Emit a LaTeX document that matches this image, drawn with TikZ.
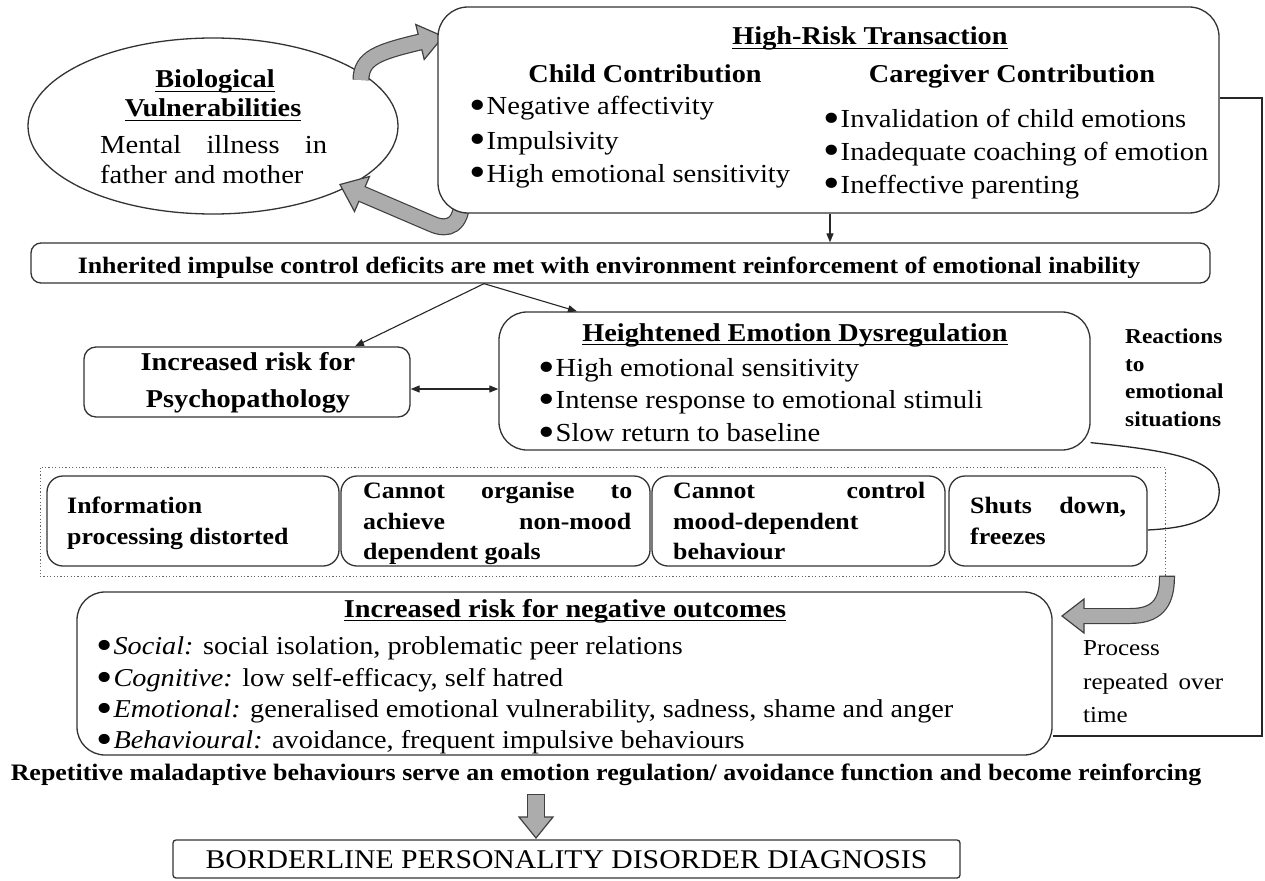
\documentclass[tikz,border=0pt]{standalone}
\usepackage{fontspec}
\usepackage{graphicx}
\setmainfont{Liberation Serif}[FakeStretch=1.1]
\usetikzlibrary{shapes.geometric,arrows.meta,calc}
\newcommand\myul[1]{\setbox0\hbox{#1}\rlap{\vrule height -2.6pt depth 4pt width \wd0}\box0}
\newcommand\bul{\raisebox{-5pt}[0pt][0pt]{\scalebox{1.65}{\textbullet}}\hspace{1pt}}
\tikzset{
  every node/.style={inner sep=0pt},
  bx/.style={draw=black!80, line width=1.3pt, rounded corners=#1, fill=white},
  bx/.default=14pt,
  fR/.style={font=\fontsize{26}{31}\selectfont},
  fO/.style={font=\fontsize{25.7}{31}\selectfont},
  fB/.style={font=\fontsize{25.7}{31}\selectfont\bfseries},
  fS/.style={font=\fontsize{23.5}{28}\selectfont\bfseries},
  fRe/.style={font=\fontsize{21.2}{26}\selectfont\bfseries},
  fPr/.style={font=\fontsize{22.8}{27}\selectfont},
  fInh/.style={font=\fontsize{23.5}{28}\selectfont\bfseries},
  fBot/.style={font=\fontsize{23.6}{28}\selectfont\bfseries},
  fBpd/.style={font=\fontsize{27}{32}\selectfont},
  tl/.style={anchor=base west},
  tc/.style={anchor=base},
  conn/.style={draw=black!85, line width=1.1pt},
  arr/.style={conn, -{Triangle[length=9pt,width=7pt]}},
  darr/.style={conn, {Triangle[length=9pt,width=7pt]}-{Triangle[length=9pt,width=7pt]}},
  gout/.style={draw=black!75, line width=#1},
  gin/.style={draw=gray!65, line width=#1},
  ghead/.style={fill=gray!65, draw=black!75, line width=1.2pt, line join=miter},
  dotbox/.style={draw=black!60, line width=0.9pt, dash pattern=on 1.2pt off 2.2pt},
}
\begin{document}
\begin{tikzpicture}[x=1pt,y=-1pt]
\useasboundingbox (0,0) rectangle (1265,880);
\fill[white] (0,0) rectangle (1265,880);

% ellipse
\node[ellipse, draw=black!80, line width=1.3pt, fill=white, minimum width=370pt, minimum height=176pt] (bio) at (213,126) {};

% upper block arrow bio -> hrt
\coordinate (ua0) at (361,80);
\coordinate (ua1) at (420,42);
\draw[gout=17pt] (ua0) .. controls (361,58) and (378,52) .. (ua1);
\filldraw[ghead] (415.8,24.5) -- (443.3,36.5) -- (424.2,59.5) -- cycle;
\draw[gin=14.6pt] (ua0) .. controls (361,58) and (378,52) .. (ua1) -- (422,41.5);

% lower block arrow hrt -> bio
\coordinate (la0) at (462,198);
\coordinate (la1) at (362,194);
\draw[gout=17pt] (la0) .. controls (462,226) and (448,231) .. (432,224) -- (la1);
\filldraw[ghead] (369.5,176.5) -- (340,184.5) -- (354.5,211.5) -- cycle;
\draw[gin=14.6pt] (la0) .. controls (462,226) and (448,231) .. (432,224) -- (360.2,193.2);

% High-risk transaction box
\node[bx=30pt, minimum width=781pt, minimum height=206pt] (hrt) at (828.5,110) {};
\node[fB, tc] (hrtT) at (870,45) {\myul{High-Risk Transaction}};
\node[fB, tc] (chT) at (645,83) {Child Contribution};
\node[fB, tc] (cgT) at (1012,83) {Caregiver Contribution};
\node[fR, tl] (ch1) at (469,115) {\bul Negative affectivity};
\node[fR, tl] (ch2) at (469,149) {\bul Impulsivity};
\node[fR, tl] (ch3) at (469,182) {\bul High emotional sensitivity};
\node[fR, tl] (cg1) at (823,128) {\bul Invalidation of child emotions};
\node[fR, tl] (cg2) at (823,160) {\bul Inadequate coaching of emotion};
\node[fR, tl] (cg3) at (823,193) {\bul Ineffective parenting};

% ellipse text
\node[fB, tc] (bio1) at (215,88) {\myul{Biological}};
\node[fB, tc] (bio2) at (213,117) {\myul{Vulnerabilities}};
\node[fR, tl] (bio3) at (100,153) {\makebox[227pt][s]{Mental\hfill illness\hfill in}};
\node[fR, tl] (bio4) at (100,183) {father and mother};

% inherited
\node[bx=10pt, minimum width=1179pt, minimum height=40pt] (inh) at (620.5,263) {};
\node[fInh, tc] (inhT) at (609,273) {Inherited impulse control deficits are met with environment reinforcement of emotional inability};
\draw[arr] (hrt.south -| 830,0) -- (inh.north -| 830,0);

% psychopathology
\node[bx=12pt, minimum width=326pt, minimum height=70pt] (psy) at (247,382) {};
\node[fB, tc] (psy1) at (248,370) {Increased risk for};
\node[fB, tc] (psy2) at (248,407) {Psychopathology};

% heightened
\node[bx=28pt, minimum width=591pt, minimum height=138pt] (hed) at (794.5,381) {};
\node[fB, tc] (hedT) at (795,341) {\myul{Heightened Emotion Dysregulation}};
\node[fR, tl] (hed1) at (538,376) {\bul High emotional sensitivity};
\node[fR, tl] (hed2) at (538,408) {\bul Intense response to emotional stimuli};
\node[fR, tl] (hed3) at (538,441) {\bul Slow return to baseline};

\coordinate (spl) at (inh.south -| 484,0);
\draw[arr] (spl) -- (psy.north -| 355,0);
\draw[arr] (spl) -- (hed.north -| 577,0);
\draw[darr] (psy.east |- 0,389) -- (hed.west |- 0,389);

% reactions text
\node[fRe, tl] (re1) at (1125,343) {Reactions};
\node[fRe, tl] (re2) at (1125,371) {to};
\node[fRe, tl] (re3) at (1125,398) {emotional};
\node[fRe, tl] (re4) at (1125,426) {situations};

% dotted group and four boxes
\node[dotbox, minimum width=1125pt, minimum height=109pt] (grp) at (602.5,521.5) {};
\node[bx=16pt, minimum width=292pt, minimum height=90pt] (b1) at (193,521) {};
\node[bx=16pt, minimum width=309pt, minimum height=90pt] (b2) at (495.5,521) {};
\node[bx=16pt, minimum width=293pt, minimum height=90pt] (b3) at (798.5,521) {};
\node[bx=16pt, minimum width=198pt, minimum height=90pt] (b4) at (1048,521) {};
\node[fS, tl] (b1a) at (67,513) {Information};
\node[fS, tl] (b1b) at (67,544) {processing distorted};
\node[fS, tl] (b2a) at (363,498) {\makebox[269pt][s]{Cannot\hfill organise\hfill to}};
\node[fS, tl] (b2b) at (363,529) {\makebox[268pt][s]{achieve\hfill non-mood}};
\node[fS, tl] (b2c) at (363,559) {dependent goals};
\node[fS, tl] (b3a) at (673,498) {\makebox[252pt][s]{Cannot\hfill control}};
\node[fS, tl] (b3b) at (673,529) {mood-dependent};
\node[fS, tl] (b3c) at (673,559) {behaviour};
\node[fS, tl] (b4a) at (970,513) {\makebox[156pt][s]{Shuts\hfill down,}};
\node[fS, tl] (b4b) at (970,544) {freezes};

% curve from heightened to shuts down
\draw[conn, line width=1.3pt] ([yshift=8pt]hed.south east) .. controls (1185,452) and (1222,462) .. (1219,495) .. controls (1216,522) and (1185,528) .. ([yshift=-9pt]b4.east);

% outcomes
\node[bx=28pt, minimum width=975pt, minimum height=163pt] (out) at (564.5,673.5) {};
\node[fB, tc] (outT) at (565,617) {\myul{Increased risk for negative outcomes}};
\node[fO, tl] (o1) at (96,654) {\bul\textit{Social:} social isolation, problematic peer relations};
\node[fO, tl] (o2) at (96,686) {\bul\textit{Cognitive:} low self-efficacy, self hatred};
\node[fO, tl] (o3) at (96,717) {\bul\textit{Emotional:} generalised emotional vulnerability, sadness, shame and anger};
\node[fO, tl] (o4) at (96,748) {\bul\textit{Behavioural:} avoidance, frequent impulsive behaviours};

% process repeated arrow
\coordinate (pa0) at (1167,577);
\draw[gout=16pt] (1167,575.5) -- (pa0) .. controls (1167,605) and (1155,616) .. (1130,616) -- (1084,616);
\filldraw[ghead] (1084,599) -- (1062,616) -- (1084,633) -- cycle;
\draw[gin=13.6pt] (pa0) .. controls (1167,605) and (1155,616) .. (1130,616) -- (1082,616);
\node[fPr, tl] (pr1) at (1083,655) {Process};
\node[fPr, tl] (pr2) at (1083,689) {\makebox[140pt][s]{repeated\hfill over}};
\node[fPr, tl] (pr3) at (1083,722) {time};

% feedback line
\coordinate (fbt) at (1262,98);
\coordinate (fbb) at (1262,736);
\draw[conn] ([yshift=12pt]hrt.east) -- (fbt) -- (fbb) -- (out.east |- fbb);

% bottom
\node[fBot, tc] (rep) at (606,780) {Repetitive maladaptive behaviours serve an emotion regulation/ avoidance function and become reinforcing};
\node[bx=3pt, minimum width=787pt, minimum height=38pt] (bpd) at (566.5,859) {};
\node[fBpd, tc] (bpdT) at (566.5,868) {BORDERLINE PERSONALITY DISORDER DIAGNOSIS};
\coordinate (da0) at (536,795);
\draw[gout=18pt] (536,793.5) -- (536,818);
\filldraw[ghead] (519,817) -- (536,838) -- (553,817) -- cycle;
\draw[gin=15.6pt] (da0) -- (536,819.5);
\end{tikzpicture}
\end{document}
